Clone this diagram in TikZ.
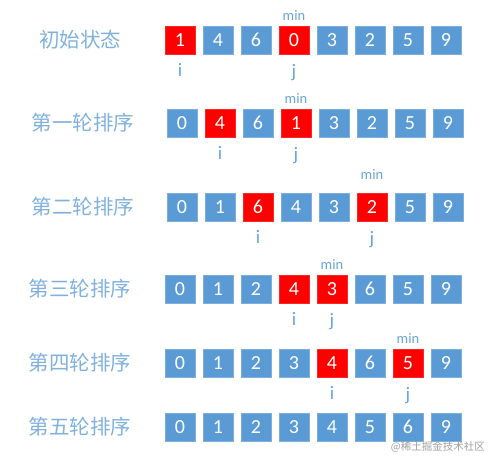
\documentclass[tikz,border=0pt]{standalone}
\usepackage{fontspec}
\setmainfont{Carlito}
\newfontfamily\cjk{Noto Sans CJK SC}
\usetikzlibrary{calc}
\definecolor{boxblue}{HTML}{5B9BD5}
\definecolor{boxred}{HTML}{FF0000}
\definecolor{txtblue}{HTML}{6AA3D8}
\tikzset{
  cell/.style={minimum width=30pt, minimum height=28pt, inner sep=0pt, fill=boxblue, draw=boxblue!80!white, line width=0.6pt, text=white, font=\fontsize{20}{20}\selectfont},
  hot/.style={fill=boxred, draw=boxred!85!white},
  rowlabel/.style={text=txtblue!85!white, font=\cjk\fontsize{20.5}{21}\selectfont, inner sep=0pt},
  ptr/.style={text=txtblue, font=\fontsize{19}{19}\selectfont, anchor=base, inner sep=0pt},
  minlab/.style={text=txtblue, font=\fontsize{14.5}{15}\selectfont, anchor=base, inner sep=0pt},
  wmark/.style={text=gray!75, font=\cjk\fontsize{10.5}{11}\selectfont, inner sep=0pt},
}
\newcommand\sortrow[7]{%
  \node[rowlabel] (lab#1) at (#2,#3) {#4};
  \foreach \v/\h [count=\k from 0] in {#6} {
    \ifnum\h=1
      \node[cell,hot] (r#1c\k) at (#5+15+38*\k,#3) {\v};
    \else
      \node[cell] (r#1c\k) at (#5+15+38*\k,#3) {\v};
    \fi
  }
  #7
}
\begin{document}
\begin{tikzpicture}[x=1pt,y=-1pt]
\useasboundingbox (0,0) rectangle (489,456);
\sortrow{1}{80}{40}{初始状态}{165}{1/1,4/0,6/0,0/1,3/0,2/0,5/0,9/0}{%
  \node[minlab] (m1) at ($(r1c3.center)+(0,-20)$) {min};
  \node[ptr] (i1) at ($(r1c0.center)+(0,36)$) {i};
  \node[ptr] (j1) at ($(r1c3.center)+(0,37)$) {j};}
\sortrow{2}{83}{123}{第一轮排序}{167}{0/0,4/1,6/0,1/1,3/0,2/0,5/0,9/0}{%
  \node[minlab] (m2) at ($(r2c3.center)+(0,-20)$) {min};
  \node[ptr] (i2) at ($(r2c1.center)+(0,36)$) {i};
  \node[ptr] (j2) at ($(r2c3.center)+(0,37)$) {j};}
\sortrow{3}{83}{207}{第二轮排序}{167}{0/0,1/0,6/1,4/0,3/0,2/1,5/0,9/0}{%
  \node[minlab] (m3) at ($(r3c5.center)+(0,-28)$) {min};
  \node[ptr] (i3) at ($(r3c2.center)+(0,36)$) {i};
  \node[ptr] (j3) at ($(r3c5.center)+(0,37)$) {j};}
\sortrow{4}{80}{289}{第三轮排序}{165}{0/0,1/0,2/0,4/1,3/1,6/0,5/0,9/0}{%
  \node[minlab] (m4) at ($(r4c4.center)+(0,-20)$) {min};
  \node[ptr] (i4) at ($(r4c3.center)+(0,36)$) {i};
  \node[ptr] (j4) at ($(r4c4.center)+(0,37)$) {j};}
\sortrow{5}{80}{363}{第四轮排序}{165}{0/0,1/0,2/0,3/0,4/1,6/0,5/1,9/0}{%
  \node[minlab] (m5) at ($(r5c6.center)+(0,-20)$) {min};
  \node[ptr] (i5) at ($(r5c4.center)+(0,36)$) {i};
  \node[ptr] (j5) at ($(r5c6.center)+(0,37)$) {j};}
\sortrow{6}{80}{427}{第五轮排序}{165}{0/0,1/0,2/0,3/0,4/0,5/0,6/0,9/0}{}
\node[wmark, anchor=east] (wm) at (485,447) {@稀土掘金技术社区};
\end{tikzpicture}
\end{document}
